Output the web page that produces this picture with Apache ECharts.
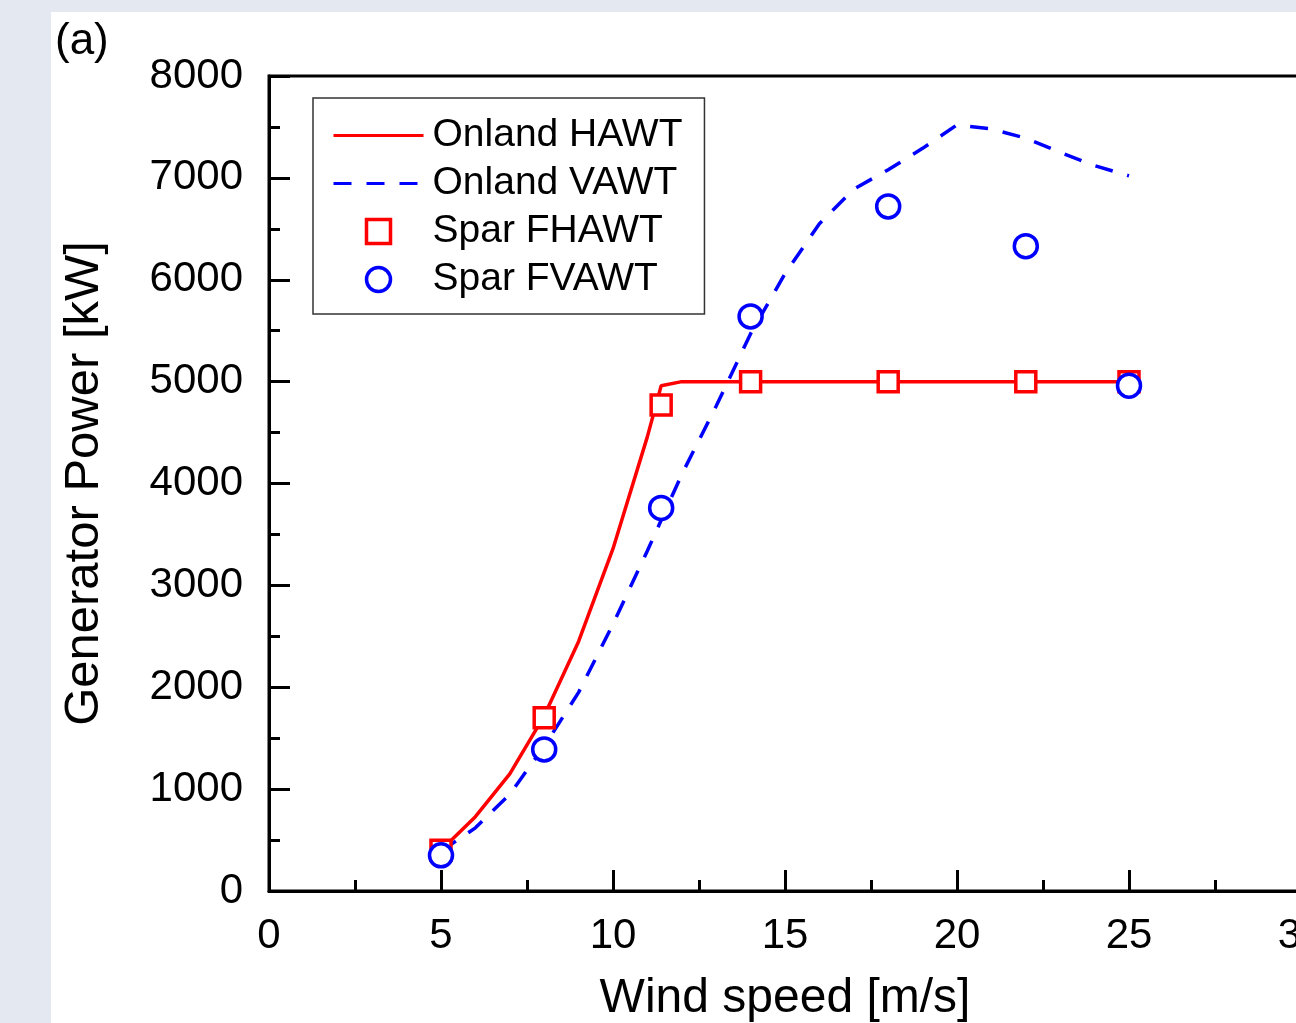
<!DOCTYPE html>
<html>
<head>
<meta charset="utf-8">
<script src="https://cdn.jsdelivr.net/npm/echarts@6/dist/echarts.min.js"></script>
<style>
  html, body { margin: 0; padding: 0; background: #e4e8f0; }
  #chart { position: absolute; left: 51px; top: 12px; width: 1245px; height: 1011px; background: #fff; }
</style>
</head>
<body>
<div id="chart"></div>
<script>
// Onland HAWT (solid red line)
const hawtWind = [5, 6, 7, 8, 9, 10, 11, 11.4, 12, 13, 14, 15, 16, 17, 18, 19, 20, 21, 22, 23, 24, 25];
const hawtPower = [400, 730, 1150, 1720, 2450, 3360, 4460, 4960, 5000, 5000, 5000, 5000, 5000, 5000, 5000, 5000, 5000, 5000, 5000, 5000, 5000, 5000];
// Onland VAWT (dashed blue line)
const vawtWind = [5, 6, 7, 8, 9, 10, 11, 12, 13, 14, 15, 16, 17, 18, 19, 20, 21, 22, 23, 24, 25];
const vawtPower = [390, 620, 950, 1420, 1950, 2620, 3340, 4090, 4760, 5470, 6060, 6550, 6890, 7080, 7290, 7520, 7480, 7390, 7250, 7120, 7020];
// Spar floating turbines (markers)
const sparWind = [5, 8, 11.4, 14, 18, 22, 25];
const sparFhawt = [400, 1700, 4770, 5000, 5000, 5000, 5000];
const sparFvawt = [350, 1390, 3760, 5640, 6720, 6330, 4960];

const FONT = 'Liberation Sans, Arial, sans-serif';
const pairs = (xs, ys) => xs.map((x, i) => [x, ys[i]]);
const hidden = { color: 'rgba(0,0,0,0)', borderColor: 'rgba(0,0,0,0)', borderWidth: 0 };

const chart = echarts.init(document.getElementById('chart'));
chart.setOption({
    animation: false,
    backgroundColor: '#fff',
    title: {
        text: '(a)',
        left: 4,
        top: 8,
        padding: 0,
        textStyle: { fontFamily: FONT, fontSize: 44, fontWeight: 'normal', color: '#000' }
    },
    grid: {
        left: 218,
        top: 64,
        right: -5,
        bottom: 132,
        outerBoundsMode: 'none',
        containLabel: false,
        show: true,
        borderColor: '#000',
        borderWidth: 3,
        backgroundColor: 'transparent'
    },
    legend: {
        orient: 'vertical',
        left: 262,
        top: 86,
        padding: [18, 22, 15, 19],
        itemWidth: 90,
        itemHeight: 24,
        itemGap: 9,
        borderColor: '#333',
        borderWidth: 1.5,
        backgroundColor: '#fff',
        textStyle: { fontFamily: FONT, fontSize: 39, color: '#000', lineHeight: 38, padding: [0, 0, 0, 4] },
        data: [
            { name: 'Onland HAWT', itemStyle: hidden, lineStyle: { width: 3 } },
            { name: 'Onland VAWT', itemStyle: hidden, lineStyle: { width: 3 } },
            { name: 'Spar FHAWT', icon: 'path://M0,0H10V10H0Z', itemStyle: { color: '#fff', borderColor: '#ff0000', borderWidth: 3.5 } },
            { name: 'Spar FVAWT', icon: 'circle', itemStyle: { color: '#fff', borderColor: '#0000ff', borderWidth: 3.5 } }
        ]
    },
    xAxis: {
        type: 'value',
        min: 0,
        max: 30,
        interval: 5,
        name: 'Wind speed [m/s]',
        nameLocation: 'middle',
        nameGap: 84,
        nameTextStyle: { fontFamily: FONT, fontSize: 48, color: '#000' },
        axisLine: { lineStyle: { color: '#000', width: 3 } },
        axisTick: { inside: true, length: 21, lineStyle: { color: '#000', width: 3 } },
        minorTick: { show: true, splitNumber: 2, length: 11, lineStyle: { color: '#000', width: 3 } },
        axisLabel: { fontFamily: FONT, fontSize: 42, color: '#000', margin: 24, formatter: v => String(v) },
        splitLine: { show: false }
    },
    yAxis: {
        type: 'value',
        min: 0,
        max: 8000,
        interval: 1000,
        name: 'Generator Power [kW]',
        nameLocation: 'middle',
        nameGap: 160,
        nameTextStyle: { fontFamily: FONT, fontSize: 49, color: '#000' },
        axisLine: { lineStyle: { color: '#000', width: 3 } },
        axisTick: { inside: true, length: 21, lineStyle: { color: '#000', width: 3 } },
        minorTick: { show: true, splitNumber: 2, length: 11, lineStyle: { color: '#000', width: 3 } },
        axisLabel: { fontFamily: FONT, fontSize: 42, color: '#000', margin: 26, formatter: v => String(v) },
        splitLine: { show: false }
    },
    series: [
        {
            name: 'Onland HAWT',
            type: 'line',
            data: pairs(hawtWind, hawtPower),
            symbol: 'none',
            color: '#ff0000',
            lineStyle: { color: '#ff0000', width: 3.5 },
            z: 2
        },
        {
            name: 'Onland VAWT',
            type: 'line',
            data: pairs(vawtWind, vawtPower),
            symbol: 'none',
            color: '#0000ff',
            lineStyle: { color: '#0000ff', width: 3.5, type: [18, 15] },
            z: 2
        },
        {
            name: 'Spar FHAWT',
            type: 'scatter',
            data: pairs(sparWind, sparFhawt),
            symbol: 'rect',
            symbolSize: 20,
            itemStyle: { color: '#fff', borderColor: '#ff0000', borderWidth: 3.5, opacity: 1 },
            z: 3
        },
        {
            name: 'Spar FVAWT',
            type: 'scatter',
            data: pairs(sparWind, sparFvawt),
            symbol: 'circle',
            symbolSize: 23,
            itemStyle: { color: '#fff', borderColor: '#0000ff', borderWidth: 3.5, opacity: 1 },
            z: 4
        }
    ]
});
</script>
</body>
</html>
